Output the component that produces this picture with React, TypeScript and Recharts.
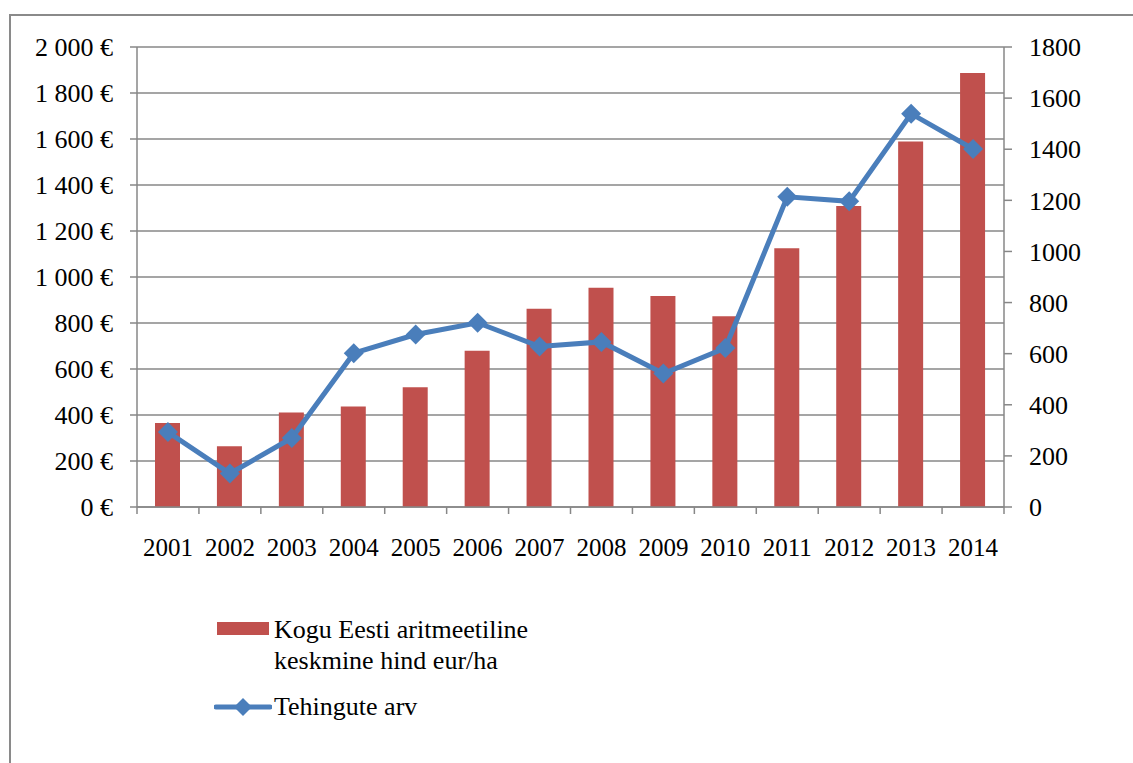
import {
  Bar,
  CartesianGrid,
  ComposedChart,
  Line,
  XAxis,
  YAxis,
} from "recharts";

const years = ["2001", "2002", "2003", "2004", "2005", "2006", "2007", "2008", "2009", "2010", "2011", "2012", "2013", "2014"];
const avgPrice = [365, 264, 411, 437, 521, 679, 862, 953, 917, 829, 1125, 1309, 1589, 1887];
const dealCount = [293, 131, 270, 602, 675, 721, 628, 646, 522, 622, 1214, 1196, 1539, 1401];
const priceTicks = [0, 200, 400, 600, 800, 1000, 1200, 1400, 1600, 1800, 2000];
const countTicks = [0, 200, 400, 600, 800, 1000, 1200, 1400, 1600, 1800];

const priceLabel = "Kogu Eesti aritmeetiline keskmine hind eur/ha";
const countLabel = "Tehingute arv";

const chartData = years.map((year, i) => ({
  year,
  price: avgPrice[i],
  count: dealCount[i],
}));

const FONT = "Liberation Serif, DejaVu Serif, Times New Roman, Times, serif";
const AXIS_GREY = "#878787";
const BAR_RED = "#C0504D";
const LINE_BLUE = "#4A7EBB";

const CHART_W = 1133;
const CHART_H = 763;
const MARGIN = { top: 47, right: 49, bottom: 206, left: 0 };
const LEFT_AXIS_W = 137;
const RIGHT_AXIS_W = 80;
const X_AXIS_H = 50;
const plotWidth = CHART_W - MARGIN.left - MARGIN.right - LEFT_AXIS_W - RIGHT_AXIS_W;
const bandWidth = plotWidth / years.length;

const formatEuro = (v: number) =>
  String(v).replace(/\B(?=(\d{3})+(?!\d))/g, " ") + " €";

// year label plus a tick mark on each category boundary
function YearTick(props: any) {
  const { x, y, payload, index } = props;
  const left = x - bandWidth / 2;
  const right = x + bandWidth / 2;
  return (
    <g>
      <line x1={left} x2={left} y1={y} y2={y + 7} stroke={AXIS_GREY} strokeWidth={1.5} />
      {index === years.length - 1 && (
        <line x1={right} x2={right} y1={y} y2={y + 7} stroke={AXIS_GREY} strokeWidth={1.5} />
      )}
      <text
        x={x}
        y={y + 40}
        textAnchor="middle"
        dominantBaseline="central"
        style={{ fontFamily: FONT }}
        fontSize={25}
        fill="#000"
      >
        {payload.value}
      </text>
    </g>
  );
}

function Diamond(props: any) {
  const { cx, cy, index } = props;
  if (cx == null || cy == null) return null;
  const r = 10;
  return (
    <polygon
      key={`d-${index}`}
      points={`${cx},${cy - r} ${cx + r},${cy} ${cx},${cy + r} ${cx - r},${cy}`}
      fill={LINE_BLUE}
    />
  );
}

function LegendBlock() {
  const text: React.CSSProperties = {
    position: "absolute",
    left: 274,
    fontFamily: FONT,
    fontSize: 26,
    lineHeight: "31px",
    color: "#000",
    whiteSpace: "nowrap",
  };
  return (
    <>
      <div style={{ position: "absolute", left: 217, top: 622, width: 52, height: 13, background: BAR_RED }} />
      <div style={{ ...text, top: 614 }}>
        Kogu Eesti aritmeetiline
        <br />
        keskmine hind eur/ha
      </div>
      <svg style={{ position: "absolute", left: 214, top: 696 }} width={58} height={22}>
        <line x1={2} x2={56} y1={11} y2={11} stroke={LINE_BLUE} strokeWidth={5} strokeLinecap="round" />
        <polygon points="29,2 38,11 29,20 20,11" fill={LINE_BLUE} />
      </svg>
      <div style={{ ...text, top: 691 }}>{countLabel}</div>
    </>
  );
}

export default function App() {
  return (
    <div
      style={{
        position: "absolute",
        left: 0,
        top: 0,
        width: CHART_W,
        height: CHART_H,
        overflow: "hidden",
        background: "#fff",
        fontFamily: FONT,
      }}
    >
      <div
        style={{
          position: "absolute",
          left: 9,
          top: 14,
          width: 1200,
          height: 800,
          border: "2px solid #8a8a8a",
        }}
      />
      <div style={{ position: "absolute", left: 0, top: 0 }}>
        <ComposedChart width={CHART_W} height={CHART_H} data={chartData} margin={MARGIN} style={{ fontFamily: FONT }}>
          <CartesianGrid yAxisId="price" vertical={false} stroke={AXIS_GREY} strokeWidth={1.5} />
          <XAxis
            dataKey="year"
            height={X_AXIS_H}
            axisLine={{ stroke: AXIS_GREY, strokeWidth: 1.5 }}
            tickLine={false}
            tickSize={0}
            tickMargin={0}
            interval={0}
            tick={<YearTick />}
          />
          <YAxis
            yAxisId="price"
            orientation="left"
            width={LEFT_AXIS_W}
            domain={[0, 2000]}
            ticks={priceTicks}
            interval={0}
            tickFormatter={formatEuro}
            axisLine={{ stroke: AXIS_GREY, strokeWidth: 1.5 }}
            tickLine={{ stroke: AXIS_GREY, strokeWidth: 1.5 }}
            tickSize={7}
            tickMargin={17}
            tick={{ fontFamily: FONT, fontSize: 26, fill: "#000" }}
          />
          <YAxis
            yAxisId="count"
            orientation="right"
            width={RIGHT_AXIS_W}
            domain={[0, 1800]}
            ticks={countTicks}
            interval={0}
            axisLine={{ stroke: AXIS_GREY, strokeWidth: 1.5 }}
            tickLine={{ stroke: AXIS_GREY, strokeWidth: 1.5 }}
            tickSize={8}
            tickMargin={17}
            tick={{ fontFamily: FONT, fontSize: 26, fill: "#000", textAnchor: "start" }}
          />
          <Bar
            yAxisId="price"
            dataKey="price"
            name={priceLabel}
            fill={BAR_RED}
            barSize={25}
            isAnimationActive={false}
          />
          <Line
            yAxisId="count"
            type="linear"
            dataKey="count"
            name={countLabel}
            stroke={LINE_BLUE}
            strokeWidth={5}
            dot={<Diamond />}
            activeDot={false}
            isAnimationActive={false}
          />
        </ComposedChart>
      </div>
      <LegendBlock />
    </div>
  );
}
